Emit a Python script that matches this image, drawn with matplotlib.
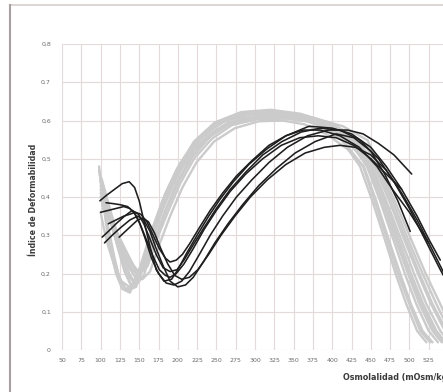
import matplotlib
matplotlib.use("Agg")
import matplotlib.pyplot as plt
from matplotlib.lines import Line2D

# ---- datos ----
x_ticks = [50, 75, 100, 125, 150, 175, 200, 225, 250, 275, 300, 325, 350, 375,
           400, 425, 450, 475, 500, 525, 550]
y_ticks = [0, 0.1, 0.2, 0.3, 0.4, 0.5, 0.6, 0.7, 0.8]
y_tick_labels = ["0", "0,1", "0,2", "0,3", "0,4", "0,5", "0,6", "0,7", "0,8"]

# curvas de referencia (gris)
g1_x = [98, 104, 110, 117, 124, 132, 142, 154, 168, 184, 202, 225, 252, 285, 318, 350, 382, 412, 436, 452, 468, 482, 496, 510, 522]
g1_y = [0.47, 0.40, 0.32, 0.25, 0.19, 0.16, 0.165, 0.23, 0.32, 0.41, 0.485, 0.55, 0.595, 0.62, 0.625, 0.615, 0.59, 0.55, 0.48, 0.39, 0.29, 0.20, 0.12, 0.05, 0.02]
g2_x = [99, 104, 110, 117, 125, 134, 146, 158, 172, 188, 206, 229, 256, 289, 324, 358, 392, 422, 445, 462, 479, 494, 509, 525, 537]
g2_y = [0.46, 0.39, 0.31, 0.24, 0.185, 0.155, 0.165, 0.245, 0.335, 0.42, 0.49, 0.553, 0.595, 0.617, 0.622, 0.612, 0.587, 0.547, 0.48, 0.39, 0.29, 0.20, 0.12, 0.05, 0.02]
g3_x = [100, 111, 122, 131, 139, 149, 161, 175, 191, 209, 232, 259, 292, 327, 362, 397, 427, 448, 466, 484, 500, 516, 533, 545]
g3_y = [0.44, 0.355, 0.27, 0.205, 0.17, 0.185, 0.265, 0.35, 0.43, 0.50, 0.56, 0.60, 0.622, 0.625, 0.614, 0.59, 0.55, 0.48, 0.39, 0.29, 0.20, 0.12, 0.05, 0.02]
g4_x = [100, 112, 124, 134, 142, 152, 164, 178, 194, 212, 235, 262, 295, 330, 366, 402, 433, 452, 470, 489, 506, 522, 540, 552]
g4_y = [0.42, 0.34, 0.26, 0.20, 0.18, 0.205, 0.285, 0.365, 0.445, 0.51, 0.565, 0.60, 0.616, 0.618, 0.608, 0.583, 0.543, 0.48, 0.39, 0.29, 0.20, 0.12, 0.05, 0.02]
g5_x = [101, 114, 127, 137, 145, 155, 167, 181, 197, 215, 238, 265, 298, 332, 364, 396, 425, 447, 464, 482, 498, 513, 530, 542]
g5_y = [0.45, 0.355, 0.27, 0.215, 0.19, 0.21, 0.29, 0.37, 0.445, 0.51, 0.56, 0.595, 0.61, 0.612, 0.60, 0.578, 0.54, 0.48, 0.39, 0.29, 0.20, 0.12, 0.05, 0.02]
g6_x = [100, 115, 129, 139, 148, 158, 170, 184, 200, 218, 241, 268, 300, 335, 370, 406, 437, 455, 474, 493, 511, 528, 546, 558]
g6_y = [0.40, 0.33, 0.26, 0.215, 0.195, 0.215, 0.29, 0.365, 0.44, 0.505, 0.558, 0.592, 0.607, 0.61, 0.60, 0.578, 0.54, 0.48, 0.39, 0.29, 0.20, 0.12, 0.05, 0.02]
g7_x = [101, 117, 132, 143, 151, 161, 173, 187, 203, 221, 244, 270, 302, 338, 375, 412, 443, 458, 478, 498, 517, 535, 552]
g7_y = [0.39, 0.325, 0.26, 0.22, 0.20, 0.22, 0.29, 0.36, 0.435, 0.50, 0.552, 0.588, 0.603, 0.605, 0.596, 0.574, 0.537, 0.48, 0.39, 0.29, 0.20, 0.12, 0.05]
g8_x = [102, 118, 134, 145, 154, 164, 176, 190, 206, 224, 247, 274, 305, 336, 364, 392, 420, 441, 457, 473, 488, 502, 517, 530]
g8_y = [0.38, 0.32, 0.255, 0.21, 0.185, 0.205, 0.275, 0.35, 0.425, 0.49, 0.545, 0.58, 0.598, 0.60, 0.59, 0.565, 0.525, 0.48, 0.39, 0.29, 0.20, 0.12, 0.05, 0.02]
g9_x = [98, 102, 107, 113, 120, 128, 138, 150, 164, 180, 198, 221, 248, 282, 320, 358, 396, 428, 455, 475, 495, 513, 530, 548]
g9_y = [0.48, 0.41, 0.33, 0.26, 0.20, 0.16, 0.15, 0.21, 0.30, 0.39, 0.47, 0.545, 0.595, 0.622, 0.628, 0.618, 0.595, 0.56, 0.48, 0.39, 0.29, 0.20, 0.12, 0.05]
g10_x = [100, 114, 127, 137, 146, 156, 168, 182, 198, 216, 239, 266, 299, 336, 374, 414, 446, 460, 481, 502, 521, 540, 556]
g10_y = [0.41, 0.335, 0.255, 0.20, 0.17, 0.195, 0.275, 0.355, 0.435, 0.50, 0.555, 0.59, 0.608, 0.615, 0.607, 0.585, 0.548, 0.48, 0.39, 0.29, 0.20, 0.12, 0.05]
g11_x = [100, 111, 123, 133, 141, 151, 163, 177, 193, 211, 234, 260, 292, 325, 356, 387, 415, 440, 455, 471, 485, 500, 514, 527]
g11_y = [0.43, 0.35, 0.265, 0.20, 0.165, 0.19, 0.275, 0.36, 0.44, 0.505, 0.562, 0.598, 0.616, 0.62, 0.61, 0.585, 0.545, 0.48, 0.39, 0.29, 0.20, 0.12, 0.05, 0.02]
g12_x = [103, 118, 131, 141, 149, 159, 171, 185, 201, 219, 242, 268, 300, 334, 367, 400, 430, 450, 468, 486, 502, 518, 535, 547]
g12_y = [0.37, 0.315, 0.26, 0.22, 0.20, 0.22, 0.29, 0.365, 0.44, 0.505, 0.558, 0.594, 0.61, 0.615, 0.605, 0.582, 0.543, 0.48, 0.39, 0.29, 0.20, 0.12, 0.05, 0.02]
g13_x = [100, 104, 110, 118, 127, 137, 147, 158, 171, 186, 203, 224, 250, 282, 316, 350, 384, 415, 440, 458, 476, 492, 508, 525, 538]
g13_y = [0.36, 0.32, 0.27, 0.22, 0.18, 0.165, 0.18, 0.24, 0.32, 0.40, 0.47, 0.53, 0.575, 0.605, 0.615, 0.61, 0.59, 0.555, 0.50, 0.43, 0.34, 0.24, 0.15, 0.07, 0.03]

# curvas de pacientes (negro)
k1_x = [99, 108, 118, 128, 137, 144, 150, 157, 164, 172, 182, 192, 200, 212, 225, 240, 255, 272, 292, 315, 340, 370, 400, 425, 450, 470, 490, 510, 525, 540]
k1_y = [0.39, 0.405, 0.42, 0.435, 0.44, 0.425, 0.39, 0.33, 0.27, 0.21, 0.18, 0.185, 0.21, 0.255, 0.30, 0.35, 0.395, 0.44, 0.485, 0.525, 0.56, 0.585, 0.58, 0.565, 0.53, 0.48, 0.42, 0.35, 0.29, 0.235]
k2_x = [107, 115, 125, 135, 143, 150, 158, 166, 175, 185, 195, 205, 215, 228, 242, 258, 276, 296, 318, 342, 368, 395, 420, 440, 460, 480, 503]
k2_y = [0.385, 0.383, 0.38, 0.375, 0.36, 0.335, 0.29, 0.24, 0.20, 0.175, 0.17, 0.18, 0.205, 0.25, 0.30, 0.35, 0.40, 0.445, 0.49, 0.53, 0.56, 0.575, 0.575, 0.565, 0.54, 0.51, 0.46]
k3_x = [102, 110, 120, 131, 141, 149, 156, 164, 172, 181, 190, 199, 208, 220, 234, 250, 268, 288, 310, 335, 360, 385, 410, 435, 460, 480, 500, 520, 540, 555]
k3_y = [0.295, 0.31, 0.33, 0.35, 0.365, 0.355, 0.33, 0.29, 0.25, 0.215, 0.205, 0.21, 0.235, 0.275, 0.32, 0.37, 0.42, 0.465, 0.51, 0.545, 0.57, 0.58, 0.575, 0.55, 0.50, 0.44, 0.37, 0.29, 0.21, 0.155]
k4_x = [105, 115, 126, 138, 148, 156, 164, 172, 181, 190, 200, 210, 220, 233, 248, 265, 284, 305, 328, 352, 378, 405, 428, 450, 468, 485, 501]
k4_y = [0.28, 0.30, 0.32, 0.34, 0.35, 0.34, 0.31, 0.265, 0.22, 0.18, 0.165, 0.17, 0.19, 0.23, 0.28, 0.33, 0.38, 0.43, 0.475, 0.515, 0.545, 0.565, 0.555, 0.52, 0.46, 0.39, 0.31]
k5_x = [124, 132, 140, 148, 155, 162, 170, 178, 187, 196, 205, 215, 226, 240, 256, 274, 294, 316, 340, 365, 390, 410, 430, 450, 470, 490, 510, 530, 550]
k5_y = [0.295, 0.31, 0.325, 0.34, 0.345, 0.335, 0.305, 0.265, 0.225, 0.195, 0.185, 0.19, 0.21, 0.25, 0.30, 0.35, 0.40, 0.445, 0.485, 0.515, 0.53, 0.535, 0.53, 0.51, 0.47, 0.41, 0.34, 0.26, 0.18]
k6_x = [110, 120, 130, 138, 145, 152, 160, 168, 176, 184, 190, 198, 206, 216, 228, 242, 258, 276, 296, 318, 340, 362, 385, 410, 435, 458, 478, 500, 525]
k6_y = [0.33, 0.34, 0.35, 0.355, 0.36, 0.355, 0.335, 0.30, 0.265, 0.24, 0.23, 0.235, 0.25, 0.28, 0.32, 0.365, 0.41, 0.455, 0.495, 0.535, 0.56, 0.575, 0.575, 0.56, 0.53, 0.48, 0.42, 0.36, 0.28]
k7_x = [100, 110, 120, 130, 138, 145, 152, 160, 168, 176, 184, 190, 198, 208, 220, 234, 250, 268, 288, 310, 334, 358, 382, 405, 428, 450, 470, 490]
k7_y = [0.36, 0.365, 0.37, 0.375, 0.37, 0.355, 0.325, 0.285, 0.245, 0.21, 0.195, 0.19, 0.20, 0.225, 0.265, 0.315, 0.365, 0.415, 0.46, 0.50, 0.535, 0.555, 0.56, 0.555, 0.535, 0.50, 0.46, 0.42]

gray_curves = [(g1_x, g1_y), (g2_x, g2_y), (g3_x, g3_y), (g4_x, g4_y), (g5_x, g5_y),
               (g6_x, g6_y), (g7_x, g7_y), (g8_x, g8_y), (g9_x, g9_y), (g10_x, g10_y),
               (g11_x, g11_y), (g12_x, g12_y), (g13_x, g13_y)]
black_curves = [(k1_x, k1_y), (k2_x, k2_y), (k3_x, k3_y), (k4_x, k4_y),
                (k5_x, k5_y), (k6_x, k6_y), (k7_x, k7_y)]

# ---- figura ----
W, H = 443, 392
fig = plt.figure(figsize=(W / 100, H / 100), dpi=100)
fig.patch.set_facecolor("white")

# el eje sigue mas alla del borde derecho (grafico recortado en el original)
ax = fig.add_axes([62 / W, 1 - 350 / H, (448 - 62) / W, (350 - 44) / H])

for gx, gy in gray_curves:
    ax.plot(gx, gy, color="#cbcbcb", lw=1.7, solid_capstyle="round", zorder=2)
for kx, ky in black_curves:
    ax.plot(kx, ky, color="#1e1e1e", lw=1.15, solid_capstyle="round", zorder=3)

ax.set_xlim(50, 550)
ax.set_ylim(0, 0.8)
ax.set_xticks(x_ticks)
ax.set_yticks(y_ticks)
ax.set_yticklabels(y_tick_labels)
ax.grid(True, color="#e4dada", lw=0.8, zorder=0)
ax.set_axisbelow(True)
for s in ax.spines.values():
    s.set_visible(False)
ax.tick_params(length=0, labelsize=4.5, colors="#6a6a6a")
ax.tick_params(axis="x", pad=6)
ax.tick_params(axis="y", pad=8)

fig.text(33 / W, 1 - 200 / H, "Índice de Deformabilidad", rotation=90,
         ha="center", va="center", fontsize=5.7, fontweight="bold", color="#3a3a3a")
fig.text(343 / W, 1 - 378 / H, "Osmolalidad (mOsm/kg)", ha="left", va="center",
         fontsize=5.8, fontweight="bold", color="#3a3a3a")

# marco exterior del grafico
fig.add_artist(Line2D([10 / W, 1.0], [1 - 5 / H, 1 - 5 / H], transform=fig.transFigure,
                      color="#d6d0cc", lw=1.2))
fig.add_artist(Line2D([10 / W, 10 / W], [0, 1 - 5 / H], transform=fig.transFigure,
                      color="#a8a0a0", lw=1.5))

fig.savefig("out.png", dpi=100)
